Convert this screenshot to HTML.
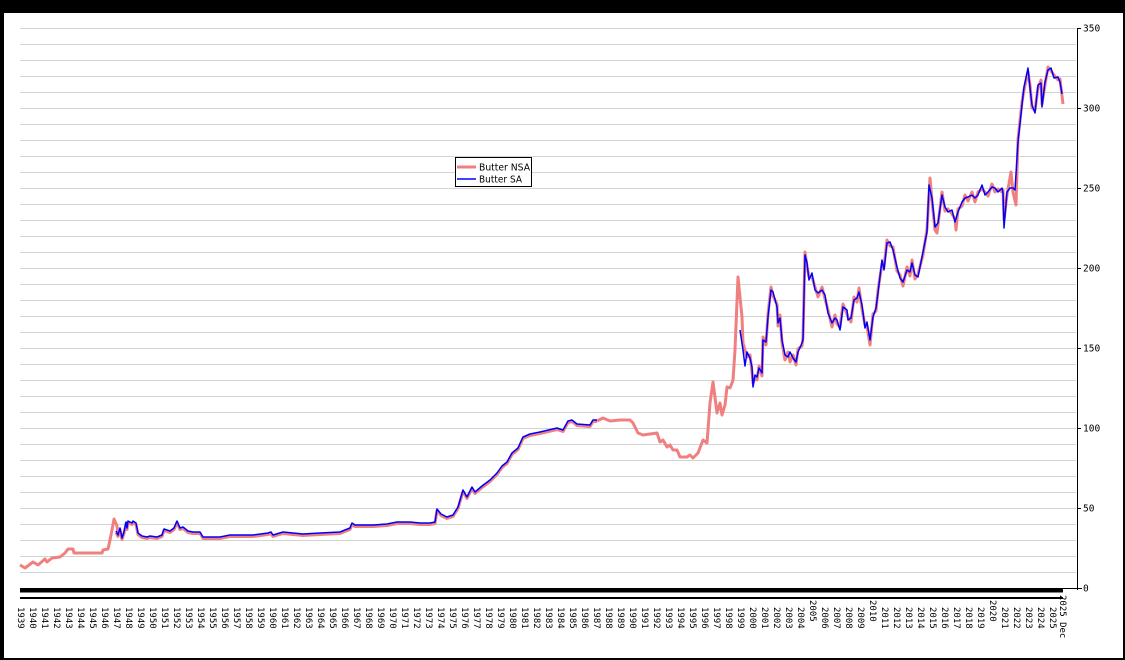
<!DOCTYPE html>
<html><head><meta charset="utf-8"><style>
html,body{margin:0;padding:0;background:#000;width:1125px;height:660px;overflow:hidden}
svg{display:block}
</style></head><body>
<svg width="1125" height="660" viewBox="0 0 1125 660" xmlns="http://www.w3.org/2000/svg">
<rect x="0" y="0" width="1125" height="660" fill="#000"/>
<rect x="4" y="13" width="1119" height="645" fill="#fff"/>
<g stroke="#d3d3d3" stroke-width="1">
<line x1="20" x2="1076" y1="28.5" y2="28.5"/><line x1="20" x2="1076" y1="44.5" y2="44.5"/><line x1="20" x2="1076" y1="60.5" y2="60.5"/><line x1="20" x2="1076" y1="76.5" y2="76.5"/><line x1="20" x2="1076" y1="92.5" y2="92.5"/><line x1="20" x2="1076" y1="108.5" y2="108.5"/><line x1="20" x2="1076" y1="124.5" y2="124.5"/><line x1="20" x2="1076" y1="140.5" y2="140.5"/><line x1="20" x2="1076" y1="156.5" y2="156.5"/><line x1="20" x2="1076" y1="172.5" y2="172.5"/><line x1="20" x2="1076" y1="188.5" y2="188.5"/><line x1="20" x2="1076" y1="204.5" y2="204.5"/><line x1="20" x2="1076" y1="220.5" y2="220.5"/><line x1="20" x2="1076" y1="236.5" y2="236.5"/><line x1="20" x2="1076" y1="252.5" y2="252.5"/><line x1="20" x2="1076" y1="268.5" y2="268.5"/><line x1="20" x2="1076" y1="284.5" y2="284.5"/><line x1="20" x2="1076" y1="300.5" y2="300.5"/><line x1="20" x2="1076" y1="316.5" y2="316.5"/><line x1="20" x2="1076" y1="332.5" y2="332.5"/><line x1="20" x2="1076" y1="348.5" y2="348.5"/><line x1="20" x2="1076" y1="364.5" y2="364.5"/><line x1="20" x2="1076" y1="380.5" y2="380.5"/><line x1="20" x2="1076" y1="396.5" y2="396.5"/><line x1="20" x2="1076" y1="412.5" y2="412.5"/><line x1="20" x2="1076" y1="428.5" y2="428.5"/><line x1="20" x2="1076" y1="444.5" y2="444.5"/><line x1="20" x2="1076" y1="460.5" y2="460.5"/><line x1="20" x2="1076" y1="476.5" y2="476.5"/><line x1="20" x2="1076" y1="492.5" y2="492.5"/><line x1="20" x2="1076" y1="508.5" y2="508.5"/><line x1="20" x2="1076" y1="524.5" y2="524.5"/><line x1="20" x2="1076" y1="540.5" y2="540.5"/><line x1="20" x2="1076" y1="556.5" y2="556.5"/><line x1="20" x2="1076" y1="572.5" y2="572.5"/>
</g>
<!-- NSA series -->
<g fill="none" stroke="#f08080" stroke-width="3" stroke-linejoin="round">
<polyline points="20,565 25,568 33,562 38,565 45,559 47,562 52,558 60,557 65,553 68,549 73,549 74,553 102,553 103,550 108,549 110,540 112,530 114,519 117,526 118,533"/>
<g transform="translate(0,1.5)">
<polyline points="116,531 118,535 120,528 122,538 124,532 126,522 127,528 128,521 132,523 133,521 136,523 138,533 142,536 147,537 150,536 157,537 162,535 164,529 170,531 174,528 177,521 180,528 183,527 188,531 193,532 200,532 203,537 205,537 220,537 230,535 253,535 268,533 271,532 273,535 283,532 303,534 320,533 340,532 350,528 352,523 355,525 373,525 387,524 397,522 410,522 420,523 430,523 435,522 437,509 441,514 447,517 453,515 458,507 463,490 467,497 472,487 475,492 482,486 490,480 497,473 502,466 507,462 512,453 518,448 523,437 530,434 540,432 557,428 563,430 568,421 572,420 577,424 590,425 593,420 597,420"/>
</g>
<polyline points="597,421 603,418 610,421 620,420 630,420 633,423 638,433 643,435 650,434 657,433 660,442 663,440 667,447 670,445 673,450 677,450 680,457 687,457 690,455 693,458 698,453 703,440 707,443 710,403 713,382 717,413 720,403 722,415 725,405 727,387 730,388 732,383 733,380 735,350 738,277 742,317 743,343 747,357 750,355 752,372 753,383 755,378 757,380 759,366 762,376 763,337 766,345 768,314 771,287 773,296 777,304 778,326 780,315 782,343 785,360 788,352 790,362 793,355 796,365 798,349 802,346 803,337 805,252 807,266 809,277 812,277 815,287 818,297 822,287 825,299 828,310 832,327 835,315 837,324 840,327 843,304 847,314 848,317 851,322 854,297 857,302 859,288 862,309 865,325 867,326 870,345 873,314 876,311 878,290 882,264 884,267 887,240 890,246 893,247 897,271 900,275 903,286 907,267 910,276 912,260 915,279 918,274 923,255 927,229 930,178 932,201 935,230 937,233 942,192 945,211 948,209 952,214 955,219 956,230 958,209 962,206 965,195 968,201 972,192 975,202 978,192 982,189 985,192 988,196 992,184 995,192 998,189 1002,192 1003,190 1004,220 1007,195 1011,172 1013,192 1016,205 1018,139 1022,102 1024,90 1028,72 1030,85 1032,108 1035,110 1038,88 1041,80 1042,104 1045,85 1048,67 1051,71 1054,75 1058,80 1060,79 1063,104"/>
</g>
<!-- SA series -->
<g fill="none" stroke="#0000ff" stroke-width="1.5" stroke-linejoin="round">
<polyline points="116,531 118,535 120,528 122,538 124,532 126,522 127,528 128,521 132,523 133,521 136,523 138,533 142,536 147,537 150,536 157,537 162,535 164,529 170,531 174,528 177,521 180,528 183,527 188,531 193,532 200,532 203,537 205,537 220,537 230,535 253,535 268,533 271,532 273,535 283,532 303,534 320,533 340,532 350,528 352,523 355,525 373,525 387,524 397,522 410,522 420,523 430,523 435,522 437,509 441,514 447,517 453,515 458,507 463,490 467,497 472,487 475,492 482,486 490,480 497,473 502,466 507,462 512,453 518,448 523,437 530,434 540,432 557,428 563,430 568,421 572,420 577,424 590,425 593,420 597,420"/>
<polyline points="740,330 743,350 745,366 747,352 750,358 752,367 753,387 755,375 757,377 759,368 762,373 763,340 766,342 768,317 771,290 773,292 777,307 778,323 780,318 782,340 785,355 788,357 790,352 793,358 796,362 798,352 802,343 803,340 805,255 807,263 809,280 812,273 815,290 818,293 822,290 825,295 828,313 832,323 835,318 837,320 840,330 843,307 847,310 848,320 851,318 854,300 857,298 859,292 862,305 865,328 867,322 870,340 873,317 876,308 878,293 882,260 884,270 887,243 890,242 893,250 897,267 900,278 903,282 907,270 910,272 912,263 915,275 918,277 923,252 927,232 929,185 932,198 935,227 938,223 942,195 945,207 948,212 952,210 955,222 958,212 962,202 965,198 968,197 972,195 975,198 978,195 982,185 985,195 988,192 992,187 995,188 998,192 1002,188 1003,193 1004,228 1007,192 1010,188 1013,188 1015,190 1018,142 1022,105 1024,87 1028,68 1030,88 1032,105 1035,113 1038,85 1041,83 1042,107 1045,82 1048,70 1051,68 1054,78 1058,77 1060,82 1062,94"/>
</g>
<!-- bottom bars -->
<rect x="20" y="588" width="1043" height="4.5" fill="#000"/>
<rect x="20" y="597" width="1043" height="2" fill="#000"/>
<!-- right axis -->
<rect x="1077" y="28" width="1" height="562" fill="#000"/>
<g stroke="#000" stroke-width="1">
<line x1="1077" x2="1081" y1="28.5" y2="28.5"/><line x1="1077" x2="1081" y1="108.5" y2="108.5"/><line x1="1077" x2="1081" y1="188.5" y2="188.5"/><line x1="1077" x2="1081" y1="268.5" y2="268.5"/><line x1="1077" x2="1081" y1="348.5" y2="348.5"/><line x1="1077" x2="1081" y1="428.5" y2="428.5"/><line x1="1077" x2="1081" y1="508.5" y2="508.5"/><line x1="1063" x2="1082" y1="588.5" y2="588.5"/>
</g>
<g font-family="DejaVu Sans Mono, Liberation Mono, monospace" font-size="9.5" fill="#000">
<text x="1083" y="31.5">350</text><text x="1083" y="111.5">300</text><text x="1083" y="191.5">250</text><text x="1083" y="271.5">200</text><text x="1083" y="351.5">150</text><text x="1083" y="431.5">100</text><text x="1083" y="511.5">50</text><text x="1083" y="591.5">0</text>
</g>
<!-- x labels -->
<g font-family="DejaVu Sans Mono, Liberation Mono, monospace" font-size="9" fill="#000">
<text transform="translate(18,607) rotate(90)">1939</text><text transform="translate(30,607) rotate(90)">1940</text><text transform="translate(42,607) rotate(90)">1941</text><text transform="translate(54,607) rotate(90)">1942</text><text transform="translate(66,607) rotate(90)">1943</text><text transform="translate(78,607) rotate(90)">1944</text><text transform="translate(90,607) rotate(90)">1945</text><text transform="translate(102,607) rotate(90)">1946</text><text transform="translate(114,607) rotate(90)">1947</text><text transform="translate(126,607) rotate(90)">1948</text><text transform="translate(138,607) rotate(90)">1949</text><text transform="translate(150,607) rotate(90)">1950</text><text transform="translate(162,607) rotate(90)">1951</text><text transform="translate(174,607) rotate(90)">1952</text><text transform="translate(186,607) rotate(90)">1953</text><text transform="translate(198,607) rotate(90)">1954</text><text transform="translate(210,607) rotate(90)">1955</text><text transform="translate(222,607) rotate(90)">1956</text><text transform="translate(234,607) rotate(90)">1957</text><text transform="translate(246,607) rotate(90)">1958</text><text transform="translate(258,607) rotate(90)">1959</text><text transform="translate(270,607) rotate(90)">1960</text><text transform="translate(282,607) rotate(90)">1961</text><text transform="translate(294,607) rotate(90)">1962</text><text transform="translate(306,607) rotate(90)">1963</text><text transform="translate(318,607) rotate(90)">1964</text><text transform="translate(330,607) rotate(90)">1965</text><text transform="translate(342,607) rotate(90)">1966</text><text transform="translate(354,607) rotate(90)">1967</text><text transform="translate(366,607) rotate(90)">1968</text><text transform="translate(378,607) rotate(90)">1969</text><text transform="translate(390,607) rotate(90)">1970</text><text transform="translate(402,607) rotate(90)">1971</text><text transform="translate(414,607) rotate(90)">1972</text><text transform="translate(426,607) rotate(90)">1973</text><text transform="translate(438,607) rotate(90)">1974</text><text transform="translate(450,607) rotate(90)">1975</text><text transform="translate(462,607) rotate(90)">1976</text><text transform="translate(474,607) rotate(90)">1977</text><text transform="translate(486,607) rotate(90)">1978</text><text transform="translate(498,607) rotate(90)">1979</text><text transform="translate(510,607) rotate(90)">1980</text><text transform="translate(522,607) rotate(90)">1981</text><text transform="translate(534,607) rotate(90)">1982</text><text transform="translate(546,607) rotate(90)">1983</text><text transform="translate(558,607) rotate(90)">1984</text><text transform="translate(570,607) rotate(90)">1985</text><text transform="translate(582,607) rotate(90)">1986</text><text transform="translate(594,607) rotate(90)">1987</text><text transform="translate(606,607) rotate(90)">1988</text><text transform="translate(618,607) rotate(90)">1989</text><text transform="translate(630,607) rotate(90)">1990</text><text transform="translate(642,607) rotate(90)">1991</text><text transform="translate(654,607) rotate(90)">1992</text><text transform="translate(666,607) rotate(90)">1993</text><text transform="translate(678,607) rotate(90)">1994</text><text transform="translate(690,607) rotate(90)">1995</text><text transform="translate(702,607) rotate(90)">1996</text><text transform="translate(714,607) rotate(90)">1997</text><text transform="translate(726,607) rotate(90)">1998</text><text transform="translate(738,607) rotate(90)">1999</text><text transform="translate(750,607) rotate(90)">2000</text><text transform="translate(762,607) rotate(90)">2001</text><text transform="translate(774,607) rotate(90)">2002</text><text transform="translate(786,607) rotate(90)">2003</text><text transform="translate(798,607) rotate(90)">2004</text><text transform="translate(810,600) rotate(90)">2005</text><text transform="translate(822,607) rotate(90)">2006</text><text transform="translate(834,607) rotate(90)">2007</text><text transform="translate(846,607) rotate(90)">2008</text><text transform="translate(858,607) rotate(90)">2009</text><text transform="translate(870,600) rotate(90)">2010</text><text transform="translate(882,607) rotate(90)">2011</text><text transform="translate(894,607) rotate(90)">2012</text><text transform="translate(906,607) rotate(90)">2013</text><text transform="translate(918,607) rotate(90)">2014</text><text transform="translate(930,607) rotate(90)">2015</text><text transform="translate(942,607) rotate(90)">2016</text><text transform="translate(954,607) rotate(90)">2017</text><text transform="translate(966,607) rotate(90)">2018</text><text transform="translate(978,607) rotate(90)">2019</text><text transform="translate(990,600) rotate(90)">2020</text><text transform="translate(1002,607) rotate(90)">2021</text><text transform="translate(1014,607) rotate(90)">2022</text><text transform="translate(1026,607) rotate(90)">2023</text><text transform="translate(1038,607) rotate(90)">2024</text><text transform="translate(1050,607) rotate(90)">2025</text><text transform="translate(1060,595) rotate(90)">2025 Dec</text>
</g>
<!-- legend -->
<rect x="455.5" y="157.5" width="76" height="29" fill="#fff" stroke="#000" stroke-width="1"/>
<line x1="457" x2="476" y1="167" y2="167" stroke="#f08080" stroke-width="3"/>
<line x1="457" x2="476" y1="179" y2="179" stroke="#0000ff" stroke-width="1.5"/>
<g font-family="DejaVu Sans, Liberation Sans, sans-serif" font-size="10" fill="#000">
<text x="479" y="170.5" textLength="51" lengthAdjust="spacingAndGlyphs">Butter NSA</text>
<text x="479" y="182.5" textLength="43" lengthAdjust="spacingAndGlyphs">Butter SA</text>
</g>
</svg>
</body></html>
